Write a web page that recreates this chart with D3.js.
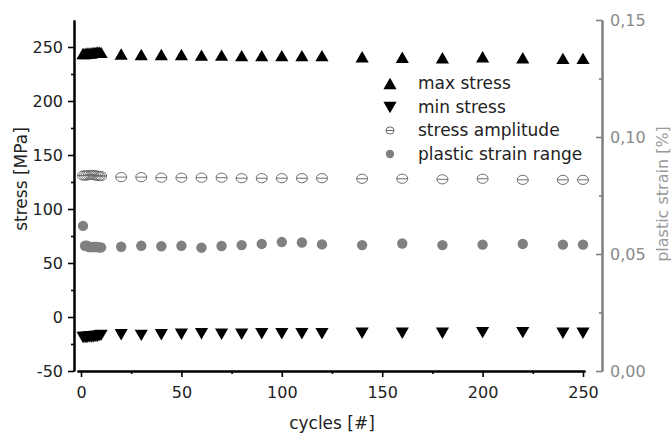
<!DOCTYPE html>
<html>
<head>
<meta charset="utf-8">
<script src="https://cdn.jsdelivr.net/npm/d3@7"></script>
<style>
  body { margin: 0; background: #fff; }
  svg text { font-family: "DejaVu Sans", sans-serif; }
</style>
</head>
<body>
<svg class="chart_svg" width="672" height="440"></svg>
<script>
// values
var cycles = [1, 2, 3, 4, 5, 6, 7, 8, 9, 10, 20, 30, 40, 50, 60, 70, 80, 90, 100, 110, 120, 140, 160, 180, 200, 220, 240, 250];
var maxStress = [244, 244, 244.5, 244.5, 244.5, 245, 245, 245.5, 245.5, 245, 243.5, 243, 243, 243, 242.5, 242.5, 242, 242, 242, 242, 242, 241, 240.5, 240, 241, 240, 239.5, 239.5];
var minStress = [-19, -19, -19, -18.5, -18.5, -18.5, -18, -18, -17.5, -17, -16.5, -17, -16.5, -16, -15.5, -16, -16, -15.5, -15.5, -15.5, -15.5, -15, -15, -15, -14.5, -14.5, -15, -15];
var stressAmp = [131, 131, 131, 131.5, 131.5, 131.5, 131, 131, 130.5, 130.5, 129.5, 129.5, 129, 129, 129, 129, 128.5, 128.5, 128.5, 128.5, 128.5, 128, 128, 127.5, 128, 127, 127, 127];
var plasticStrain = [0.062, 0.0535, 0.0535, 0.053, 0.053, 0.053, 0.053, 0.053, 0.0528, 0.0528, 0.0531, 0.0535, 0.0533, 0.0535, 0.0527, 0.0534, 0.0538, 0.0543, 0.0551, 0.0549, 0.0541, 0.0538, 0.0545, 0.0538, 0.054, 0.0543, 0.054, 0.054];

var xTicks = [0, 50, 100, 150, 200, 250];
var xMinor = [25, 75, 125, 175, 225];
var yTicks = [-50, 0, 50, 100, 150, 200, 250];
var yMinor = [-25, 25, 75, 125, 175, 225];
var y2Ticks = [0, 0.05, 0.10, 0.15];
var y2Minor = [0.025, 0.075, 0.125];
var legendNames = ["max stress", "min stress", "stress amplitude", "plastic strain range"];

var svg = d3.select(".chart_svg");

var x = d3.scaleLinear().domain([-2, 251]).range([77, 585]);
var y = d3.scaleLinear().domain([-50, 275]).range([371, 20]);
var y2 = d3.scaleLinear().domain([0, 0.15]).range([371, 20]);

// plain hyphen for negatives, comma as decimal mark
var locale = d3.formatLocale({decimal: ",", thousands: ".", grouping: [3], currency: ["", ""], minus: "-"});
var fmtInt = locale.format("d");
var fmt2 = locale.format(".2f");

var data = cycles.map(function(c, i) {
	return {c: c, max: maxStress[i], min: minStress[i], amp: stressAmp[i], pl: plasticStrain[i]};
});

function styleAxis(g, col, textCol) {
	g.select(".domain").attr("stroke", col).attr("stroke-width", 2);
	g.selectAll(".tick line").attr("stroke", col).attr("stroke-width", 1.6);
	g.selectAll(".tick text").attr("fill", textCol).style("font-size", "16px");
}

// x axis
var xAxisEl = svg.append("g")
	.attr("transform", "translate(0,371)")
	.call(d3.axisBottom(x).tickValues(xTicks).tickSize(6).tickSizeOuter(0).tickPadding(10).tickFormat(fmtInt));
styleAxis(xAxisEl, "#000", "#222");
var xMinorEl = svg.append("g")
	.attr("transform", "translate(0,371)")
	.call(d3.axisBottom(x).tickValues(xMinor).tickSize(3).tickSizeOuter(0).tickFormat(""));
styleAxis(xMinorEl, "#000", "#222");

// left axis
var yAxisEl = svg.append("g")
	.attr("transform", "translate(74,0)")
	.call(d3.axisLeft(y).tickValues(yTicks).tickSize(6).tickSizeOuter(0).tickPadding(5).tickFormat(fmtInt));
styleAxis(yAxisEl, "#000", "#222");
var yMinorEl = svg.append("g")
	.attr("transform", "translate(74,0)")
	.call(d3.axisLeft(y).tickValues(yMinor).tickSize(3).tickSizeOuter(0).tickFormat(""));
styleAxis(yMinorEl, "#000", "#222");

// right axis (ticks pointing inward)
var y2AxisEl = svg.append("g")
	.attr("transform", "translate(602,0)")
	.call(d3.axisRight(y2).tickValues(y2Ticks).tickSize(-6).tickSizeOuter(0).tickPadding(8).tickFormat(fmt2));
styleAxis(y2AxisEl, "#808080", "#8a8a8a");
var y2MinorEl = svg.append("g")
	.attr("transform", "translate(602,0)")
	.call(d3.axisRight(y2).tickValues(y2Minor).tickSize(-3).tickSizeOuter(0).tickFormat(""));
styleAxis(y2MinorEl, "#808080", "#8a8a8a");

// axis titles
svg.append("text")
	.attr("x", 332).attr("y", 429)
	.attr("text-anchor", "middle")
	.style("font-size", "17px").attr("fill", "#222")
	.text("cycles [#]");

svg.append("text")
	.attr("transform", "translate(21,179) rotate(-90)")
	.attr("text-anchor", "middle").attr("dy", "0.35em")
	.style("font-size", "17px").attr("fill", "#222")
	.text("stress [MPa]");

svg.append("text")
	.attr("transform", "translate(662,194) rotate(-90)")
	.attr("text-anchor", "middle").attr("dy", "0.35em")
	.style("font-size", "16px").attr("fill", "#999")
	.text("plastic strain [%]");

// markers
var triSize = 75;
var triA = Math.sqrt(triSize / (Math.sqrt(3) * 3)); // d3 triangle: bbox from -2a to +a
var triUp = d3.symbol().type(d3.symbolTriangle).size(triSize);

var drawarea = svg.append("g").attr("class", "draw-area");

drawarea.append("g").selectAll("circle")
	.data(data).enter().append("circle")
	.attr("cx", function(d) { return x(d.c); })
	.attr("cy", function(d) { return y2(d.pl); })
	.attr("r", 5.2)
	.style("fill", "#808080");

var amp = drawarea.append("g").selectAll("g")
	.data(data).enter().append("g")
	.attr("transform", function(d) { return "translate(" + x(d.c) + "," + y(d.amp) + ")"; });
amp.append("ellipse")
	.attr("rx", 5.5).attr("ry", 4.6)
	.style("fill", "none").style("stroke", "#6e6e6e").style("stroke-width", 1);
amp.append("line")
	.attr("x1", -5.5).attr("x2", 5.5)
	.style("stroke", "#6e6e6e").style("stroke-width", 1);

drawarea.append("g").selectAll("path")
	.data(data).enter().append("path")
	.attr("d", triUp)
	.attr("transform", function(d) { return "translate(" + x(d.c) + "," + (y(d.max) + triA / 2) + ")"; })
	.style("fill", "#000");

drawarea.append("g").selectAll("path")
	.data(data).enter().append("path")
	.attr("d", triUp)
	.attr("transform", function(d) { return "translate(" + x(d.c) + "," + (y(d.min) - triA / 2) + ") rotate(180)"; })
	.style("fill", "#000");

// legend
var legend = svg.append("g").attr("transform", "translate(390,0)");
var rowY = [83.5, 107.5, 130.5, 154];

legend.append("path").attr("d", triUp)
	.attr("transform", "translate(0," + (rowY[0] + triA / 2) + ")").style("fill", "#000");
legend.append("path").attr("d", triUp)
	.attr("transform", "translate(0," + (rowY[1] - triA / 2) + ") rotate(180)").style("fill", "#000");
legend.append("ellipse")
	.attr("cy", rowY[2]).attr("rx", 4).attr("ry", 3.6)
	.style("fill", "none").style("stroke", "#6e6e6e").style("stroke-width", 1);
legend.append("line")
	.attr("x1", -4).attr("x2", 4).attr("y1", rowY[2]).attr("y2", rowY[2])
	.style("stroke", "#6e6e6e").style("stroke-width", 1);
legend.append("circle")
	.attr("cy", rowY[3]).attr("r", 4.2).style("fill", "#808080");

legend.selectAll(".legendText")
	.data(legendNames).enter().append("text")
	.attr("class", "legendText")
	.attr("x", 28)
	.attr("y", function(d, i) { return rowY[i]; })
	.attr("dy", "0.35em")
	.style("font-size", "17px").attr("fill", "#222")
	.text(function(d) { return d; });
</script>
</body>
</html>
